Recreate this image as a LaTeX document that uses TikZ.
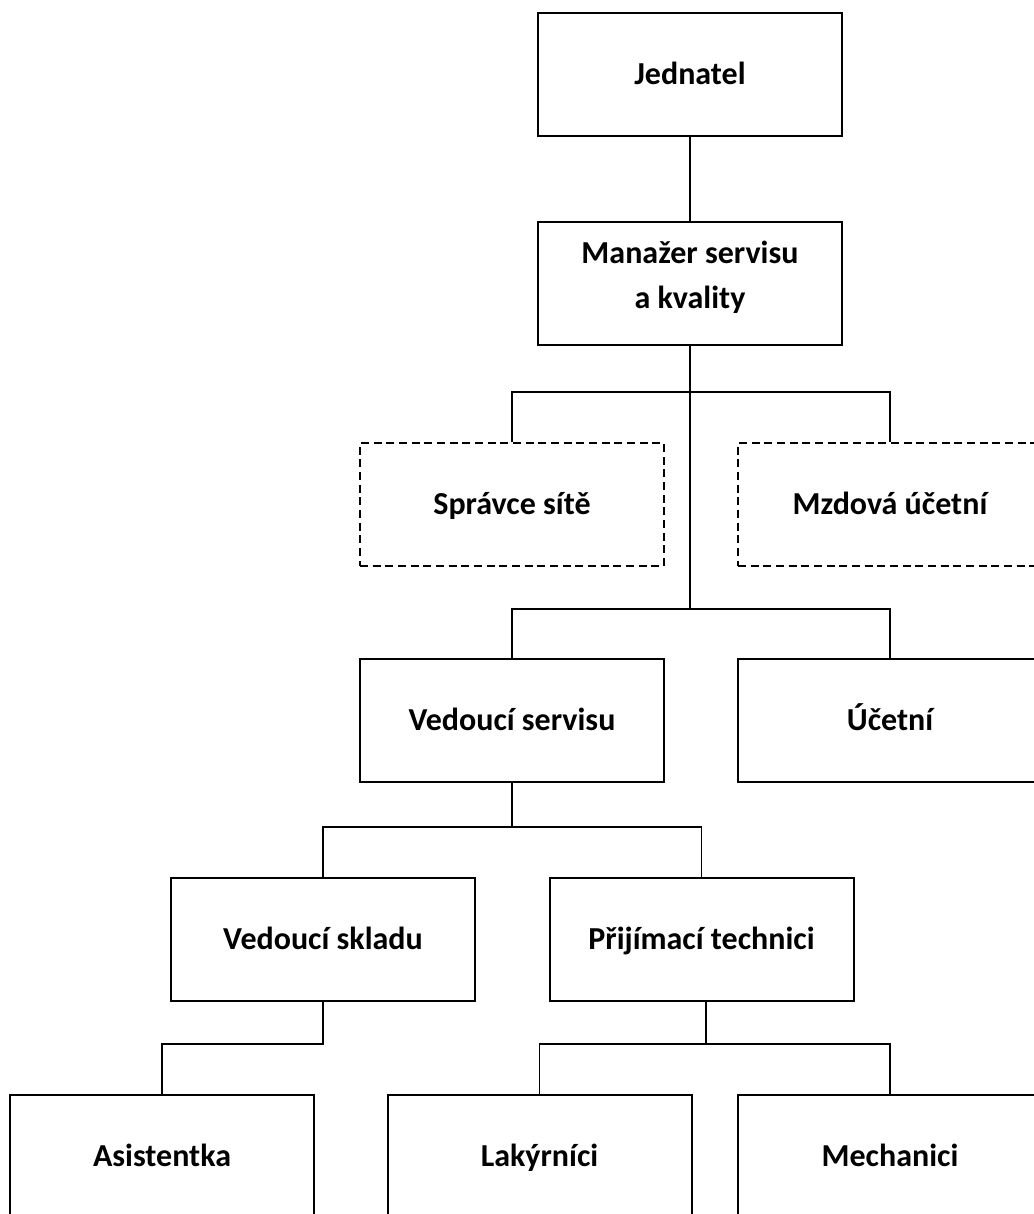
\documentclass[tikz,border=0pt]{standalone}
\usepackage{fontspec}
\setmainfont{Carlito}
\usetikzlibrary{positioning,calc}

\begin{document}
\begin{tikzpicture}[x=0.75pt,y=-0.75pt,
    box/.style={draw,line width=1.5pt,minimum width=228pt,minimum height=92.25pt,
        inner sep=0pt,align=center,text height=16pt,text depth=1pt,
        font=\fontsize{24}{33.75}\selectfont\bfseries},
    dashbox/.style={box,line width=1.1pt,dash pattern=on 6pt off 3.5pt},
    link/.style={line width=1pt}]
    \useasboundingbox (0,0) rectangle (1034,1214);
    \clip (0,0) rectangle (1034,1214);

    % top of the chart
    \node[box] (jed) at (690,74.5) {Jednatel};
    \node[box,text height=40pt,text depth=3.2pt] (man) at (690,283.5) {Manažer servisu\\a kvality};

    % staff positions (dashed)
    \node[dashbox] (spr) at (512,504.5) {Správce sítě};
    \node[dashbox] (mzd) at (890,504.5) {Mzdová účetní};

    % second level
    \node[box] (vse) at (512,720.5) {Vedoucí servisu};
    \node[box] (uct) at (890,720.5) {Účetní};

    % third level
    \node[box] (vsk) at (323,939.5) {Vedoucí skladu};
    \node[box] (pri) at (701.5,939.5) {Přijímací technici};

    % bottom level
    \node[box] (asi) at (162,1156.5) {Asistentka};
    \node[box] (lak) at (539.5,1156.5) {Lakýrníci};
    \node[box] (mec) at (890,1156.5) {Mechanici};

    % branch points
    \coordinate (b1) at (690,392);
    \coordinate (b2) at (690,609);
    \coordinate (b3) at (512,827);
    \coordinate (b4) at (323,1044);
    \coordinate (b5) at (706,1044);

    \draw[link] (jed.south) -- (man.north);
    \draw[link] (man.south) -- (b2);
    \draw[link] (spr.north) |- (b1) -| (mzd.north);
    \draw[link] (vse.north) |- (b2) -| (uct.north);
    \draw[link] (vse.south) -- (b3);
    \draw[link] (vsk.north) |- (b3) -| (pri.north);
    \draw[link] (vsk.south) -- (b4) -| (asi.north);
    \draw[link] (pri.south -| b5) -- (b5);
    \draw[link] (lak.north) |- (b5) -| (mec.north);
\end{tikzpicture}
\end{document}
